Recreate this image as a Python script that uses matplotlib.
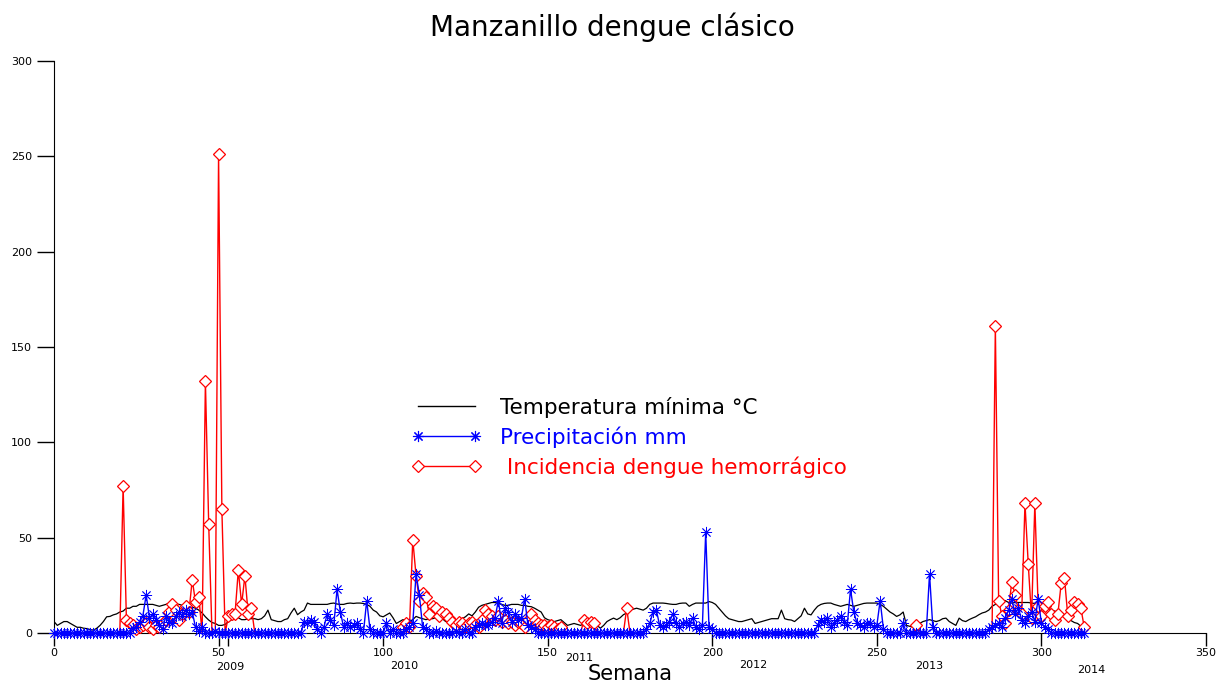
import numpy as np
import matplotlib
matplotlib.use("Agg")
import matplotlib.pyplot as plt
from matplotlib.lines import Line2D

# Weekly minimum temperature (°C), weeks 0..313
temp_min = [
    6, 4, 5, 6, 6, 5, 4, 3, 3, 2.5,
    2.3, 1.8, 1.5, 2.5, 4, 6, 8.5, 8.7, 9.5, 10,
    11, 11.5, 13, 13, 14, 14, 15, 15, 15, 15,
    15, 14.5, 14, 14.5, 15, 15.7, 15.5, 15, 15, 14.5,
    14.5, 14, 13.5, 13, 12, 10.5, 8.5, 6.8, 5.5, 5,
    4, 4, 4.5, 6, 7, 8.7, 8, 7, 7, 7.5,
    7.5, 7.5, 7, 7.5, 9, 12, 7, 6.5, 6, 6,
    7, 7.5, 10.5, 13, 9.6, 11, 12, 15.7, 15, 15,
    15, 15, 15, 15, 15.5, 15.7, 15.2, 15, 15, 15.5,
    15.7, 15.5, 15.7, 15.7, 15.5, 15, 14, 12, 11, 9,
    8.5, 9.5, 10.5, 8, 5, 6, 7, 6.5, 6, 7,
    8.7, 8, 7.5, 7, 7.5, 7.5, 8, 8.7, 7.5, 6,
    6, 6, 6, 7, 7.5, 8.5, 10, 9, 11, 13.5,
    14.5, 15, 15.5, 16, 16, 15.5, 15, 14.5, 14.5, 15,
    15, 15, 14.5, 14.5, 14, 13.8, 13, 12, 11, 8,
    7, 6.5, 6, 6.5, 7, 5.5, 4, 4.5, 5, 4.5,
    4, 5, 6, 5, 4.5, 4, 2.5, 4, 6, 7,
    7.8, 7, 8, 9.6, 10.5, 12, 12.5, 13, 12.5, 12,
    13, 15, 15.7, 15.7, 15.7, 15.7, 15.5, 15.2, 15, 15,
    15.5, 15.7, 15.7, 14, 15, 15.7, 15.7, 15.7, 15.7, 16.5,
    16, 15, 13, 11, 9, 7.5, 7, 6.5, 6, 6,
    6.5, 7, 7.5, 5, 5.5, 6, 6.5, 7, 7.5, 7.5,
    7.5, 12, 7.5, 7, 6.8, 6, 7.5, 9, 13, 10,
    9.5, 12, 14, 15, 15.5, 15.7, 15.7, 15, 14.5, 14,
    14.5, 15, 14.5, 14, 14.5, 15, 15.5, 15.7, 15.7, 15.7,
    15.7, 15, 14, 12.5, 11, 10, 8.7, 9.5, 11, 4,
    3.5, 3, 4, 5, 6, 6.5, 7, 6.5, 6, 6.5,
    7.5, 7.8, 6, 5, 4, 7.8, 6.5, 6, 7, 7.8,
    8.5, 9.6, 10.5, 11, 12, 14, 15, 16.5, 16.5, 17,
    16, 15.7, 16, 16, 16, 16, 16, 15.7, 15.5, 15.5,
    15, 14, 13, 12, 11.5, 11, 10, 8.5, 7.5, 6.5,
    5.5, 5, 3.5, 1.5,
]

# Weekly precipitation (mm): weeks with rain, all other weeks are 0
rain_weeks = [
    24, 25, 26, 27, 28, 29, 30, 31, 32, 33, 34, 35, 36, 37, 38, 39, 40, 41, 42, 43, 44, 45, 49,
    76, 77, 78, 79, 80, 82, 83, 84, 85, 86, 87, 88, 89, 90, 91, 92, 93, 95, 96, 101, 103,
    107, 108, 109, 110, 111, 112, 113, 116, 122, 125, 128, 129, 130, 131, 132, 133, 134, 135,
    136, 137, 138, 139, 140, 141, 142, 143, 144, 145, 146,
    180, 181, 182, 183, 184, 185, 186, 187, 188, 189, 190, 191, 192, 193, 194, 195, 196, 197,
    198, 199, 200,
    232, 233, 234, 235, 236, 237, 238, 239, 240, 241, 242, 243, 244, 245, 246, 247, 248, 249,
    250, 251, 252, 258, 266, 267,
    284, 285, 286, 287, 288, 289, 290, 291, 292, 293, 294, 295, 296, 297, 298, 299, 300, 301, 302,
]
rain_mm = [
    2.6, 3, 6, 9, 20, 8, 10, 7, 4, 2, 9, 6, 5, 9, 11, 9, 12, 10, 11, 3, 1, 3, 1,
    6, 5, 7, 6, 2, 3, 10, 7, 4, 23, 11, 3, 5, 3, 4, 5, 2, 17, 2, 5, 2,
    2, 3, 5, 31, 20, 3, 2, 1, 1, 2, 3, 4, 5, 4, 4, 6, 8, 17,
    5, 13, 11, 6, 10, 7, 8, 18, 4, 3, 2,
    2, 5, 11, 12, 4, 3, 4, 6, 10, 5, 3, 5, 6, 4, 8, 3, 2, 4,
    53, 3, 2,
    4, 7, 6, 8, 3, 5, 7, 9, 6, 4, 23, 11, 5, 4, 3, 5, 5, 3,
    4, 17, 2, 5, 31, 3,
    2, 3, 4, 5, 3, 8, 12, 18, 10, 13, 7, 5, 9, 11, 6, 18, 5, 3, 2,
]

# Weekly incidence of dengue: weeks with cases reported
case_weeks = [
    21, 22, 23, 24, 25, 26, 27, 28, 29, 30, 31, 32, 33, 34, 35, 36, 37, 38, 39, 40,
    41, 42, 43, 44, 46, 47, 50, 51, 53, 54, 55, 56, 57, 58, 59, 60,
    106, 107, 108, 109, 110, 111, 112, 113, 114, 115, 116, 117, 118, 119, 120, 121, 122,
    123, 124, 125, 126, 127, 128, 129, 130, 131, 132, 133, 134, 135, 136, 137, 138, 139,
    140, 141, 142, 143, 144, 145, 146, 147, 148, 149, 150, 151, 152, 153, 154,
    161, 162, 163, 164, 174, 262,
    286, 287, 288, 289, 290, 291, 292, 293, 294, 295, 296, 297, 298, 299, 300, 301, 302,
    303, 304, 305, 306, 307, 308, 309, 310, 311, 312, 313,
]
case_rate = [
    77, 7, 5, 4, 2, 3, 4, 5, 3, 2, 4, 3, 5, 7, 11, 15, 12, 7, 10, 14,
    11, 28, 16, 19, 132, 57, 251, 65, 9, 10, 10, 33, 15, 30, 10, 13,
    3, 5, 3, 49, 30, 17, 21, 19, 10, 14, 13, 9, 11, 10, 8, 6, 4,
    6, 5, 3, 5, 6, 4, 3, 7, 12, 10, 9, 7, 9, 6, 7, 5, 6,
    4, 6, 5, 3, 7, 10, 7, 5, 4, 4, 3, 4, 3, 2, 3,
    7, 5, 6, 5, 13, 4,
    161, 17, 9, 5, 12, 27, 20, 12, 10, 68, 36, 8, 68, 14, 9, 14, 16,
    10, 7, 10, 26, 29, 9, 12, 16, 15, 13, 3,
]

year_labels = ["2009", "2010", "2011", "2012", "2013", "2014"]
year_weeks = [53.5, 106.5, 159.5, 212.5, 266, 315]
year_drop = [-18, -17.5, -13, -17, -17.5, -19.5]

weeks = np.arange(len(temp_min))
rain = np.zeros(len(weeks))
rain[rain_weeks] = rain_mm

# Incidence line: reported weeks, dropping to zero in the weeks right next to them
cases = np.full(len(weeks), np.nan)
for w in case_weeks:
    for n in (w - 1, w + 1):
        if 0 <= n < len(weeks):
            cases[n] = 0.0
cases[case_weeks] = case_rate

fig = plt.figure(figsize=(12.18, 6.82), dpi=100)
ax = fig.add_axes([54 / 1218, 1 - 633 / 682, 1152 / 1218, 572 / 682])

asterisk = (8, 2, 0)

ax.plot(weeks, temp_min, color="black", lw=0.9, zorder=2)
ax.plot(weeks, cases, color="#ff0000", lw=1.0, zorder=3)
ax.plot(case_weeks, case_rate, ls="none", marker="D", ms=6.5,
        mfc="white", mec="#ff0000", mew=0.9, zorder=3, clip_on=False)
ax.plot(weeks, rain, color="#0000ff", lw=1.0, marker=asterisk, ms=8,
        mew=0.6, zorder=4, clip_on=False)

ax.set_xlim(0, 350)
ax.set_ylim(0, 300)
ax.set_xticks(np.arange(0, 351, 50))
ax.set_yticks(np.arange(0, 301, 50))
ax.set_xticks([53], minor=True)
ax.spines["top"].set_visible(False)
ax.spines["right"].set_visible(False)
ax.tick_params(axis="y", direction="out", length=12, width=1, labelsize=8, pad=4)
ax.tick_params(axis="x", direction="out", length=9, width=1, labelsize=8, pad=2)
ax.tick_params(axis="x", which="minor", direction="out", length=9, width=1)

for lab, wk, dy in zip(year_labels, year_weeks, year_drop):
    ax.text(wk, dy, lab, ha="center", va="center", fontsize=8, clip_on=False)

ax.set_xlabel("Semana", fontsize=15, labelpad=4)
fig.text(612 / 1218, 1 - 27 / 682, "Manzanillo dengue clásico",
         ha="center", va="center", fontsize=20)

handles = [
    Line2D([], [], color="black", lw=1.0),
    Line2D([], [], color="#0000ff", lw=1.0, marker=asterisk, ms=8, mew=0.8),
    Line2D([], [], color="#ff0000", lw=1.0, marker="D", ms=6.5, mfc="white",
           mec="#ff0000", mew=0.9),
]
labels = ["Temperatura mínima °C", "Precipitación mm", " Incidencia dengue hemorrágico"]
leg = fig.legend(handles, labels, loc="upper left",
                 bbox_to_anchor=(411.5 / 1218, 1 - 397 / 682),
                 frameon=False, fontsize=15.5, numpoints=2, handlelength=3.25,
                 handletextpad=0.87, labelspacing=0.39, borderpad=0,
                 borderaxespad=0,
                 labelcolor=["black", "#0000ff", "#ff0000"])

fig.savefig("out.png", dpi=100)
